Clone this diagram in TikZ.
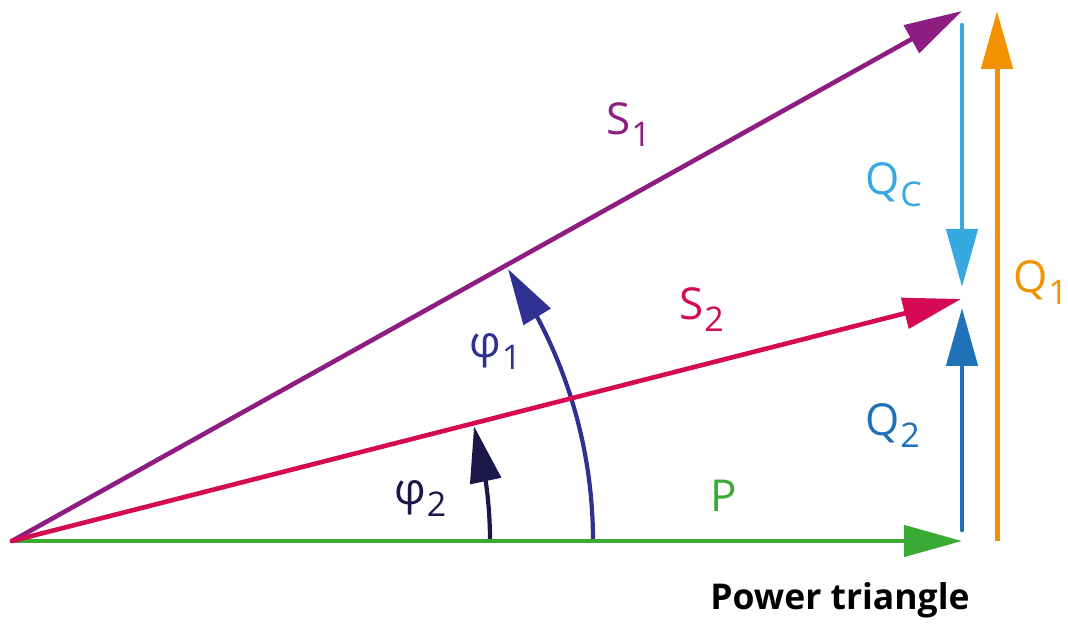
\documentclass[tikz,border=0pt]{standalone}
\usepackage{fontspec}
\setmainfont{Open Sans}
\usetikzlibrary{arrows.meta,bending}
\definecolor{cS1}{HTML}{8D1D80}
\definecolor{cS2}{HTML}{D50A52}
\definecolor{cP}{HTML}{3BAA34}
\definecolor{cQC}{HTML}{36A9E1}
\definecolor{cQ2}{HTML}{1F71B8}
\definecolor{cQ1}{HTML}{F39200}
\definecolor{cphiA}{HTML}{2E3192}
\definecolor{cphiB}{HTML}{1B1849}
\newcommand\lbsub[1]{\kern1pt\raisebox{-12pt}{\fontsize{34pt}{34pt}\selectfont #1}}
\begin{document}
\begin{tikzpicture}[x=1pt,y=1pt,
  vec/.style={line width=4.6pt,line cap=round,-{Triangle[length=58pt,width=31pt]}},
  angarc/.style={line width=4.2pt,-{Triangle[length=56pt,width=31pt,flex]}},
  lbl/.style={inner sep=0pt,anchor=base west,font=\fontsize{44pt}{44pt}\selectfont},
  title/.style={inner sep=0pt,anchor=base,font=\fontsize{35.5pt}{35.5pt}\selectfont\bfseries}]
\useasboundingbox (0,0) rectangle (1068,624);
% key points
\coordinate (O) at (12,83);
\coordinate (Ptip) at (962,83);
\coordinate (S1tip) at (962,613);
\coordinate (S2tip) at (961,325);
\coordinate (QCs) at (962,599);
\coordinate (QCe) at (962,337);
\coordinate (Q2s) at (962,94);
\coordinate (Q2e) at (962,316);
\coordinate (Q1s) at (997,83);
\coordinate (Q1e) at (997,613);
\coordinate (A1s) at (593,83);
\coordinate (A2s) at (490,83);
% angle arcs
\draw[angarc,cphiA] (A1s) arc[start angle=0,end angle=34.7,radius=477.7];
\draw[angarc,cphiB] (A2s) arc[start angle=0,end angle=15.8,radius=421.3];
% vectors
\draw[vec,cP] (O) -- (Ptip);
\draw[vec,cS1] (O) -- (S1tip);
\draw[vec,cS2] (O) -- (S2tip);
\draw[vec,cQC] (QCs) -- (QCe);
\draw[vec,cQ2] (Q2s) -- (Q2e);
\draw[vec,cQ1,line width=5pt,line cap=butt] (Q1s) -- (Q1e);
% labels
\node[lbl,text=cS1] (lS1) at (606,489) {S\lbsub{1}};
\node[lbl,text=cS2] (lS2) at (679,304) {S\lbsub{2}};
\node[lbl,text=cQC] (lQC) at (865,429) {Q\lbsub{C}};
\node[lbl,text=cQ1] (lQ1) at (1013,331) {Q\lbsub{1}};
\node[lbl,text=cQ2] (lQ2) at (865,188) {Q\lbsub{2}};
\node[lbl,text=cP] (lP) at (710,112) {P};
\node[lbl,text=cphiA] (lphi1) at (469,266) {φ\lbsub{1}};
\node[lbl,text=cphiB] (lphi2) at (394,119) {φ\lbsub{2}};
\node[title] (ttl) at (840,15) {Power triangle};
\end{tikzpicture}
\end{document}
